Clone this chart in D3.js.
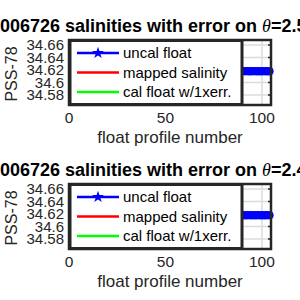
<!DOCTYPE html>
<html>
<head>
<meta charset="utf-8">
<script src="https://cdnjs.cloudflare.com/ajax/libs/d3/7.8.5/d3.min.js"></script>
<style>
  body { margin: 0; background: #fff; }
  svg { display: block; font-family: "Liberation Sans", Arial, sans-serif; }
</style>
</head>
<body>
<div id="chart"></div>
<script>
// panels
var thetaLevels = ['2.5', '2.4'];
var floatName = '5006726';

// float profile numbers and uncalibrated salinities (one array per panel)
var profiles = [90, 91, 92, 93, 94, 95, 96, 97, 98, 99, 100, 101, 102, 103, 104];
var uncalSal = [
  [34.6182, 34.6180, 34.6183, 34.6180, 34.6179, 34.6181, 34.6182, 34.6180, 34.6179, 34.6181, 34.6180, 34.6182, 34.6181, 34.6180, 34.6180],
  [34.6180, 34.6181, 34.6179, 34.6182, 34.6180, 34.6179, 34.6181, 34.6181, 34.6182, 34.6180, 34.6179, 34.6181, 34.6180, 34.6182, 34.6181]
];
var salErr = [0.005, 0.005, 0.005, 0.005, 0.005, 0.005, 0.005, 0.005, 0.005, 0.005, 0.005, 0.005, 0.005, 0.005, 0.005];

var xTicks = [0, 50, 100];
var yTicks = [34.58, 34.6, 34.62, 34.64, 34.66];
var legendLabels = ['uncal float', 'mapped salinity', 'cal float w/1xerr.'];
var legendColors = ['#0000ff', '#ff0000', '#00ff00'];

var W = 300, H = 300;
var svg = d3.select('#chart').append('svg')
  .attr('width', W).attr('height', H);

var x = d3.scaleLinear().domain([0, 104.7]).range([69, 271]);
var y = d3.scaleLinear().domain([34.564, 34.668]).range([65, 0]);

function drawPanel(i, top) {
  var g = svg.append('g').attr('transform', 'translate(0,' + top + ')');

  // grid
  g.selectAll('line.gy').data(yTicks).enter().append('line')
    .attr('x1', x(0)).attr('x2', x(104.7))
    .attr('y1', function (d) { return y(d); }).attr('y2', function (d) { return y(d); })
    .attr('stroke', '#dcdcdc').attr('stroke-width', 1.5);
  g.selectAll('line.gx').data(xTicks).enter().append('line')
    .attr('x1', function (d) { return x(d); }).attr('x2', function (d) { return x(d); })
    .attr('y1', 0).attr('y2', 65)
    .attr('stroke', '#dcdcdc').attr('stroke-width', 1.5);

  // right side ticks (inside)
  g.selectAll('line.rt').data(yTicks).enter().append('line')
    .attr('x1', x(104.7) - 3).attr('x2', x(104.7))
    .attr('y1', function (d) { return y(d); }).attr('y2', function (d) { return y(d); })
    .attr('stroke', '#262626').attr('stroke-width', 1.5);

  // data: error bars + line + markers
  var vals = uncalSal[i];
  var pts = profiles.map(function (p, k) { return [p, vals[k], salErr[k]]; });
  g.selectAll('line.eb').data(pts).enter().append('line')
    .attr('x1', function (d) { return x(d[0]); }).attr('x2', function (d) { return x(d[0]); })
    .attr('y1', function (d) { return y(d[1] - d[2]); })
    .attr('y2', function (d) { return y(d[1] + d[2]); })
    .attr('stroke', '#0000ff').attr('stroke-width', 2.5);
  g.append('path').datum(pts)
    .attr('d', d3.line().x(function (d) { return x(d[0]); }).y(function (d) { return y(d[1]); }))
    .attr('fill', 'none').attr('stroke', '#0000ff').attr('stroke-width', 8);
  g.selectAll('path.mk').data(pts).enter().append('path')
    .attr('transform', function (d) { return 'translate(' + x(d[0]) + ',' + y(d[1]) + ')'; })
    .attr('d', d3.symbol().type(d3.symbolCircle).size(50))
    .attr('fill', '#0000ff');

  // axes box
  g.append('rect')
    .attr('x', x(0)).attr('y', 0)
    .attr('width', x(104.7) - x(0)).attr('height', 65)
    .attr('fill', 'none').attr('stroke', '#262626').attr('stroke-width', 2.5);

  // tick labels
  g.selectAll('text.yt').data(yTicks).enter().append('text')
    .attr('x', 64).attr('y', function (d) { return y(d); })
    .attr('dy', '0.35em').attr('text-anchor', 'end')
    .attr('font-size', 15).attr('fill', '#262626')
    .text(function (d) { return d3.format('')(d); });
  g.selectAll('text.xt').data(xTicks).enter().append('text')
    .attr('x', function (d) { return x(d); }).attr('y', 83)
    .attr('text-anchor', 'middle')
    .attr('font-size', 15.5).attr('fill', '#262626')
    .text(function (d) { return d; });

  // axis labels
  g.append('text')
    .attr('transform', 'translate(17,34) rotate(-90)')
    .attr('text-anchor', 'middle')
    .attr('font-size', 16).attr('fill', '#262626')
    .text('PSS-78');
  g.append('text')
    .attr('x', 170).attr('y', 103)
    .attr('text-anchor', 'middle')
    .attr('font-size', 17).attr('fill', '#262626')
    .text('float profile number');

  // title: shifted so the float number's first digit falls off the left edge
  var t = g.append('text')
    .attr('y', -8)
    .attr('font-size', 18).attr('font-weight', 'bold').attr('fill', '#000');
  var pre = t.append('tspan').text(floatName.slice(0, 1));
  t.append('tspan').text(floatName.slice(1) + ' salinities with error on ');
  t.append('tspan').attr('font-family', '"Liberation Serif", "Times New Roman", serif')
    .attr('font-style', 'italic').attr('font-weight', 'normal').text('\u03b8');
  t.append('tspan').text('=' + thetaLevels[i] + '\u00b0C');
  t.attr('x', -pre.node().getComputedTextLength());

  // legend
  var lg = g.append('g');
  lg.append('rect')
    .attr('x', 70).attr('y', 0.5).attr('width', 172).attr('height', 64)
    .attr('fill', '#fff').attr('stroke', '#262626').attr('stroke-width', 3);
  var rows = lg.selectAll('g.row').data(legendLabels).enter().append('g')
    .attr('transform', function (d, k) { return 'translate(0,' + (13 + k * 19.5) + ')'; });
  rows.append('line')
    .attr('x1', 77).attr('x2', 119).attr('y1', 0).attr('y2', 0)
    .attr('stroke', function (d, k) { return legendColors[k]; })
    .attr('stroke-width', 2.5);
  rows.filter(function (d, k) { return k === 0; }).append('path')
    .attr('transform', 'translate(98,0)')
    .attr('d', d3.symbol().type(d3.symbolStar).size(45))
    .attr('fill', legendColors[0]);
  rows.append('text')
    .attr('x', 123).attr('y', 0).attr('dy', '0.35em')
    .attr('font-size', 15).attr('fill', '#000')
    .text(function (d) { return d; });
}

drawPanel(0, 40);
drawPanel(1, 184);
</script>
</body>
</html>
